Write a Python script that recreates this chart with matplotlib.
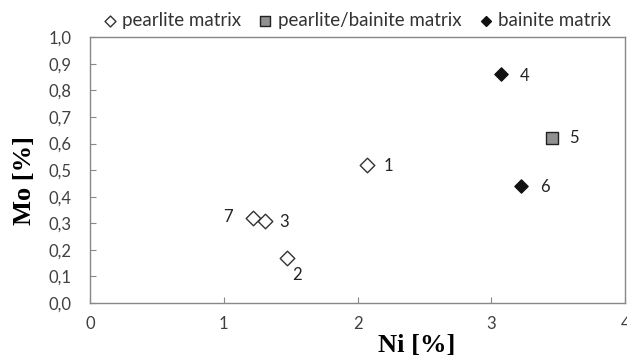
import matplotlib
matplotlib.use("Agg")
import matplotlib.pyplot as plt
from matplotlib.ticker import FuncFormatter

# Data
pearlite_ni = [2.07, 1.47, 1.31, 1.22]
pearlite_mo = [0.52, 0.17, 0.31, 0.32]
pearlite_lbl = ["1", "2", "3", "7"]

mixed_ni = [3.45]
mixed_mo = [0.62]
mixed_lbl = ["5"]

bainite_ni = [3.07, 3.22]
bainite_mo = [0.86, 0.44]
bainite_lbl = ["4", "6"]

xticks = [0, 1, 2, 3, 4]
yticks = [0.0, 0.1, 0.2, 0.3, 0.4, 0.5, 0.6, 0.7, 0.8, 0.9, 1.0]

tickfont = "Lato"
tcol = "#404040"

fig = plt.figure(figsize=(6.27, 3.57), dpi=100)
ax = fig.add_axes([0.1435, 0.151, 0.8535, 0.745])

ax.scatter(pearlite_ni, pearlite_mo, marker="D", s=55, facecolor="white",
           edgecolor="#333333", linewidths=1.0, label="pearlite matrix", zorder=3)
ax.scatter(mixed_ni, mixed_mo, marker="s", s=75, facecolor="#909090",
           edgecolor="#222222", linewidths=1.0, label="pearlite/bainite matrix", zorder=3)
ax.scatter(bainite_ni, bainite_mo, marker="D", s=45, facecolor="#111111",
           edgecolor="#111111", linewidths=1.0, label="bainite matrix", zorder=3)

# point labels (offsets in points)
offsets = {"1": (12, -1), "2": (4, -12), "3": (10, -1), "7": (-22, 1),
           "4": (14, -1), "5": (13, 0), "6": (14, -1)}
for xs, ys, ls in [(pearlite_ni, pearlite_mo, pearlite_lbl),
                   (mixed_ni, mixed_mo, mixed_lbl),
                   (bainite_ni, bainite_mo, bainite_lbl)]:
    for x, y, l in zip(xs, ys, ls):
        ax.annotate(l, (x, y), xytext=offsets[l], textcoords="offset points",
                    ha="left", va="center", fontsize=12, color="#222222",
                    family=tickfont)

ax.set_xlim(0, 4)
ax.set_ylim(0, 1.0)
ax.set_xticks(xticks)
ax.set_yticks(yticks)
ax.xaxis.set_major_formatter(FuncFormatter(lambda v, p: f"{v:.0f}"))
ax.yaxis.set_major_formatter(FuncFormatter(lambda v, p: f"{v:.1f}".replace(".", ",")))
ax.tick_params(direction="in", length=4, color="#888888", labelcolor=tcol,
               labelsize=12, width=0.8)
ax.tick_params(axis="x", pad=9)
ax.tick_params(axis="y", pad=13)
for lab in ax.get_xticklabels() + ax.get_yticklabels():
    lab.set_family(tickfont)
for sp in ax.spines.values():
    sp.set_color("#888888")
    sp.set_linewidth(1.0)

ax.set_xlabel("Ni [%]", family="Liberation Serif", fontweight="bold", fontsize=19)
ax.xaxis.set_label_coords(0.61, -0.115)
ax.set_ylabel("Mo [%]", family="Liberation Serif", fontweight="bold", fontsize=19)
ax.yaxis.set_label_coords(-0.1, 0.46)

leg = ax.legend(loc="lower left", bbox_to_anchor=(-0.005, 1.0), ncol=3, frameon=False,
                handletextpad=-0.1, columnspacing=0.55, borderaxespad=0.25,
                borderpad=0.2, handlelength=1.5,
                prop={"family": tickfont, "size": 13.5}, markerscale=0.75)
for t in leg.get_texts():
    t.set_color("#333333")

fig.savefig("out.png", dpi=100)
